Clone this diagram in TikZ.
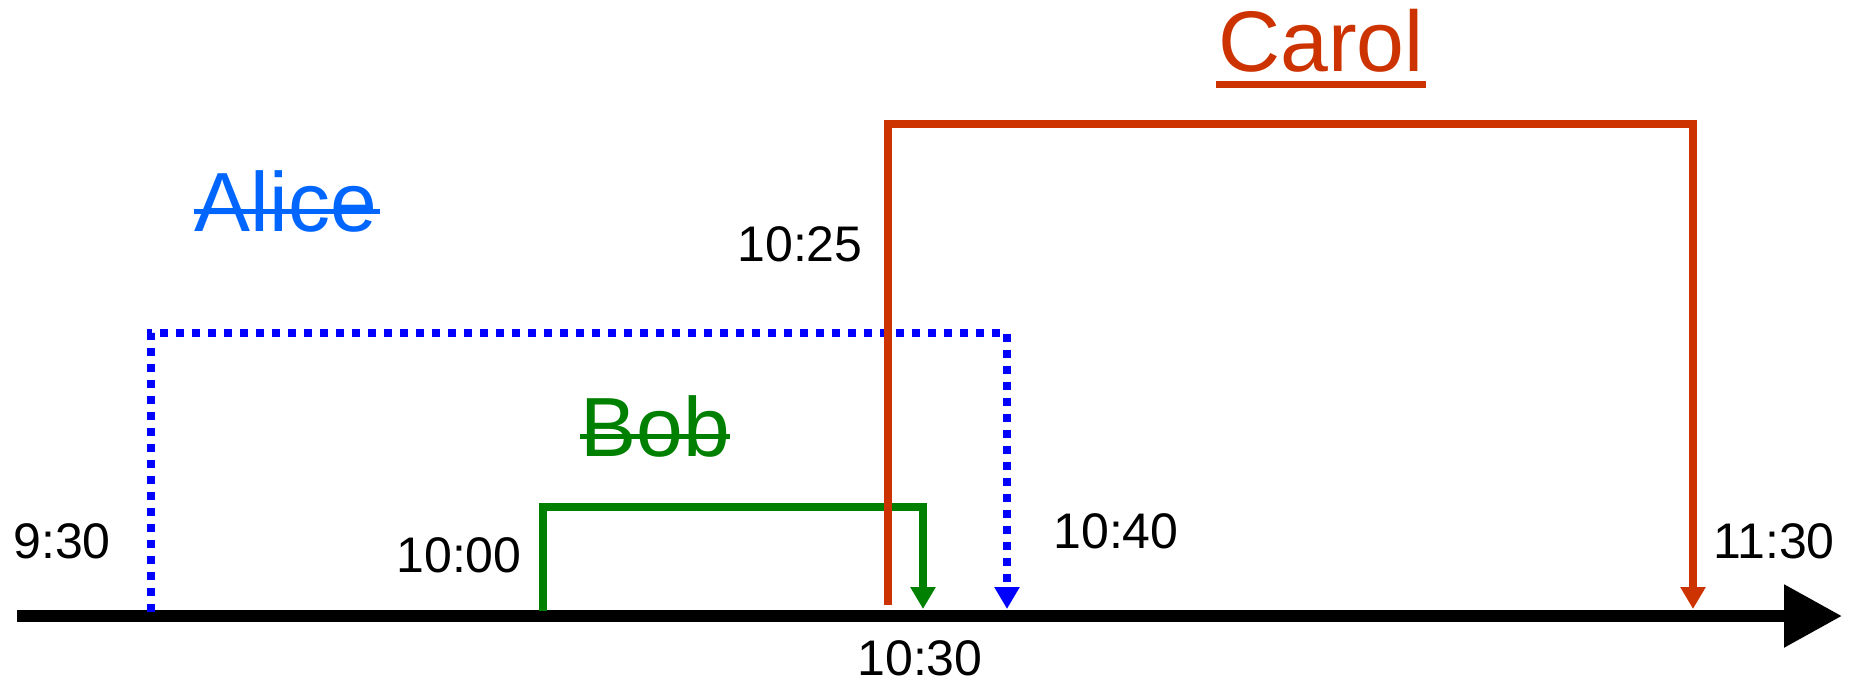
\documentclass[tikz,border=0pt]{standalone}
\usepackage{fontspec}
\setmainfont{Liberation Sans}
\usetikzlibrary{arrows.meta}
\definecolor{aliceblue}{RGB}{0,102,255}
\definecolor{dotblue}{RGB}{0,0,255}
\definecolor{bobgreen}{RGB}{0,128,0}
\definecolor{carolred}{RGB}{204,51,0}
\tikzset{
  timelabel/.style={anchor=base, inner sep=0pt, font=\fontsize{25pt}{30pt}\selectfont},
  namelabel/.style={anchor=base, inner sep=0pt, font=\fontsize{42pt}{48pt}\selectfont},
  axisline/.style={line width=6pt, -{Triangle[length=29pt,width=30pt]}},
  tipsmall/.style={-{Triangle[length=11pt,width=12pt]}},
  alicepath/.style={dotblue, line width=4pt, dash pattern=on 4pt off 4pt, tipsmall},
  bobpath/.style={bobgreen, line width=3.6pt, tipsmall},
  carolpath/.style={carolred, line width=3.8pt, tipsmall},
}
\begin{document}
\begin{tikzpicture}[x=0.5pt, y=-0.5pt]
\useasboundingbox (0,0) rectangle (1851,684);
% axis
\coordinate (axs) at (17,616);
\coordinate (axe) at (1842,616);
\draw[axisline] (axs) -- (axe);
% Alice
\coordinate (a0) at (151,612);
\coordinate (a1) at (151,333);
\coordinate (a2) at (1007,333);
\coordinate (a3) at (1007,609);
\draw[alicepath] (a0) -- (a1) -- (a2) -- (a3);
% Bob
\coordinate (b0) at (543,611);
\coordinate (b1) at (543,507);
\coordinate (b2) at (923,507);
\coordinate (b3) at (923,609);
\draw[bobpath] (b0) -- (b1) -- (b2) -- (b3);
% Carol
\coordinate (c0) at (888,605);
\coordinate (c1) at (888,124);
\coordinate (c2) at (1693,124);
\coordinate (c3) at (1693,609);
\draw[carolpath] (c0) -- (c1) -- (c2) -- (c3);
% time labels
\node[timelabel] (t930) at (62,558) {9:30};
\node[timelabel] (t1000) at (459,572) {10:00};
\node[timelabel] (t1025) at (800,262) {10:25};
\node[timelabel] (t1040) at (1116,548) {10:40};
\node[timelabel] (t1130) at (1774,558) {11:30};
\node[timelabel] (t1030) at (920,675) {10:30};
% names
\node[namelabel, text=aliceblue] (alice) at (286,232) {Alice};
\draw[aliceblue, line width=2.5pt] ([yshift=10pt,xshift=-0.5pt]alice.base west) -- ([yshift=10pt,xshift=1.5pt]alice.base east);
\node[namelabel, text=bobgreen] (bob) at (655,456) {Bob};
\draw[bobgreen, line width=2.5pt] ([yshift=10pt]bob.base west) -- ([yshift=10pt]bob.base east);
\node[namelabel, font=\fontsize{43pt}{48pt}\selectfont, text=carolred] (carol) at (1321,72) {Carol};
\draw[carolred, line width=3.5pt] ([yshift=-6.25pt,xshift=-1pt]carol.base west) -- ([yshift=-6.25pt,xshift=1pt]carol.base east);
\end{tikzpicture}
\end{document}
